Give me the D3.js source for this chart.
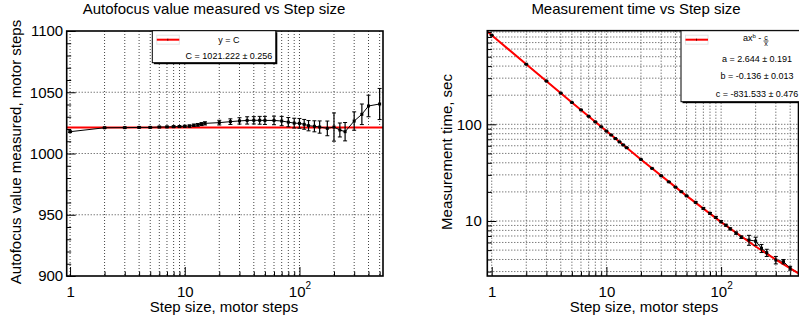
<!DOCTYPE html>
<html>
<head>
<meta charset="utf-8">
<script src="https://cdnjs.cloudflare.com/ajax/libs/d3/7.8.5/d3.min.js"></script>
<style>
  body { margin: 0; background: #fff; }
  svg { display: block; font-family: "Liberation Sans", Arial, Helvetica, sans-serif; }
</style>
</head>
<body>
<svg id="chart" width="799" height="321"></svg>
<script>
// step sizes used for both measurements
var stepSizes = [1, 2, 3, 4, 5, 6, 7, 8, 9, 10, 11, 12, 13, 14, 15, 20, 25, 30, 35, 40, 45, 50,
                 60, 70, 80, 90, 100, 110, 120, 135, 150, 175, 200, 225, 250, 300, 350, 400, 500];

// left: autofocus value
var focusValues = [1017.8, 1021.0, 1021.1, 1021.3, 1021.3, 1021.6, 1021.7, 1021.9, 1022.0, 1022.2,
                   1022.4, 1023.0, 1023.4, 1024.0, 1024.6, 1025.2, 1026.0, 1026.6, 1027.0, 1027.1,
                   1027.1, 1027.0, 1027.0, 1026.5, 1025.6, 1024.8, 1024.6, 1023.8, 1022.7, 1022.2,
                   1021.6, 1020.5, 1021.6, 1019.2, 1017.8, 1026.5, 1032.0, 1038.8, 1040.4];
var focusErrors = [0.6, 0.5, 0.5, 0.5, 0.5, 0.6, 0.6, 0.7, 0.7, 0.8, 0.9, 1.0, 1.1, 1.2, 1.3,
                   1.9, 2.3, 2.6, 3.0, 3.0, 3.2, 3.3, 3.5, 3.8, 3.8, 4.0, 4.0, 4.0, 4.2, 4.5,
                   5.0, 6.0, 11.5, 5.7, 7.5, 7.5, 8.4, 8.8, 12.7];
var focusFitC = 1021.222;

// right: measurement time
var timeValues = [834, 418, 280, 210, 168, 141, 121, 106, 94.4, 85.1, 77.5, 71.2, 65.8, 61.2, 57.3,
                  43.3, 35.0, 29.4, 25.4, 22.4, 20.1, 18.2, 15.6, 13.5, 12.0, 10.9, 9.85, 9.05, 8.3,
                  7.5, 6.8, 6.36, 6.2, 5.22, 4.7, 3.95, 3.8, 3.25, 2.8];
var timeErrors = [2, 1.5, 1.2, 1, 0.8, 0.7, 0.6, 0.5, 0.4, 0.4, 0.35, 0.3, 0.3, 0.3, 0.25,
                  0.25, 0.2, 0.2, 0.2, 0.2, 0.2, 0.2, 0.25, 0.25, 0.25, 0.25, 0.25, 0.2, 0.2,
                  0.2, 0.2, 0.75, 0.6, 0.5, 0.4, 0.35, 0.2, 0.15, 0.1];
// red fit curve
var fitSteps = [0.915, 1, 2, 5, 10, 20, 50, 100, 200, 300, 473];
var fitTimes = [910, 834, 418, 168.4, 85.1, 43.3, 18.2, 9.73, 5.45, 3.99, 2.87];

var focusTicks = [900, 950, 1000, 1050, 1100];
var timeTicks = [10, 100];
var stepTicks = [1, 10, 100];

var svg = d3.select('#chart');

function logSteps(domain) {
  var out = [];
  for (var n = Math.floor(Math.log10(domain[0])); n <= Math.ceil(Math.log10(domain[1])); n++) {
    for (var k = 1; k < 10; k++) {
      var v = k * Math.pow(10, n);
      if (v >= domain[0] && v <= domain[1]) out.push(+v.toPrecision(6));
    }
  }
  return out;
}

function supTen(g) {
  g.selectAll('.tick text').filter(function(d) { return d === 100; })
    .text('10')
    .append('tspan').attr('dy', -8).attr('font-size', 10).text('2');
}

function drawFrame(g, x, y) {
  var x0 = x.range()[0], x1 = x.range()[1], y0 = y.range()[1], y1 = y.range()[0];
  g.append('rect')
    .attr('x', x0).attr('y', y0).attr('width', x1 - x0).attr('height', y1 - y0)
    .attr('fill', 'none').attr('stroke', '#000').attr('stroke-width', 1.6);
}

function drawGrid(g, x, y, xs, ys) {
  var x0 = x.range()[0], x1 = x.range()[1], y0 = y.range()[1], y1 = y.range()[0];
  g.append('g').selectAll('line').data(xs).enter().append('line')
    .attr('x1', function(d) { return x(d); }).attr('x2', function(d) { return x(d); })
    .attr('y1', y0).attr('y2', y1)
    .attr('stroke', '#444').attr('stroke-dasharray', '1,2');
  g.append('g').selectAll('line').data(ys).enter().append('line')
    .attr('y1', function(d) { return y(d); }).attr('y2', function(d) { return y(d); })
    .attr('x1', x0).attr('x2', x1)
    .attr('stroke', '#444').attr('stroke-dasharray', '1,2');
}

function drawLine(g, x, y, xs, vals, clipId) {
  var line = d3.line().x(function(d, i) { return x(xs[i]); }).y(function(d) { return y(d); });
  g.append('path').datum(vals).attr('clip-path', 'url(#' + clipId + ')').attr('d', line)
    .attr('fill', 'none').attr('stroke', '#000').attr('stroke-width', 1);
}

function drawPoints(g, x, y, xs, vals, errs, clipId) {
  var pts = g.append('g').attr('clip-path', 'url(#' + clipId + ')');
  var bars = pts.selectAll('g.bar').data(vals).enter().append('g').attr('class', 'bar');
  bars.append('line')
    .attr('x1', function(d, i) { return x(xs[i]); }).attr('x2', function(d, i) { return x(xs[i]); })
    .attr('y1', function(d, i) { return y(d - errs[i]); }).attr('y2', function(d, i) { return y(d + errs[i]); })
    .attr('stroke', '#000').attr('stroke-width', 1.2);
  [-1, 1].forEach(function(s) {
    bars.append('line')
      .attr('x1', function(d, i) { return x(xs[i]) - 2; }).attr('x2', function(d, i) { return x(xs[i]) + 2; })
      .attr('y1', function(d, i) { return y(d + s * errs[i]); }).attr('y2', function(d, i) { return y(d + s * errs[i]); })
      .attr('stroke', '#000').attr('stroke-width', 1);
  });
  bars.append('rect')
    .attr('x', function(d, i) { return x(xs[i]) - 1.5; })
    .attr('y', function(d) { return y(d) - 1.5; })
    .attr('width', 3).attr('height', 3).attr('fill', '#000');
}

function legendBox(g, bx, by, bw, bh) {
  g.append('rect').attr('x', bx + 1.5).attr('y', by + 1.5).attr('width', bw).attr('height', bh).attr('fill', '#000');
  g.append('rect').attr('x', bx).attr('y', by).attr('width', bw).attr('height', bh)
    .attr('fill', '#fff').attr('stroke', '#000').attr('stroke-width', 1);
  g.append('rect').attr('x', bx + 4.5).attr('y', by + 4.5).attr('width', 22.5).attr('height', 9)
    .attr('fill', 'none').attr('stroke', '#e4e4e4');
  g.append('line').attr('x1', bx + 4.5).attr('x2', bx + 27).attr('y1', by + 9).attr('y2', by + 9)
    .attr('stroke', '#f00').attr('stroke-width', 2);
  g.append('rect').attr('x', bx + 15).attr('y', by + 8).attr('width', 1).attr('height', 2).attr('fill', '#600');
}

// ---------- left panel ----------
var xL = d3.scaleLog().domain([0.935, 535]).range([66.7, 383]);
var yL = d3.scaleLinear().domain([900, 1100]).range([276, 31]);
var left = svg.append('g');

left.append('clipPath').attr('id', 'clipL').append('rect')
  .attr('x', 66.7).attr('y', 31).attr('width', 383 - 66.7).attr('height', 245);

drawGrid(left, xL, yL, logSteps(xL.domain()), [950, 1000, 1050]);

left.append('line').attr('clip-path', 'url(#clipL)')
  .attr('x1', xL.range()[0]).attr('x2', xL.range()[1])
  .attr('y1', yL(focusFitC)).attr('y2', yL(focusFitC))
  .attr('stroke', '#f00').attr('stroke-width', 2);

drawLine(left, xL, yL, stepSizes, focusValues, 'clipL');
drawPoints(left, xL, yL, stepSizes, focusValues, focusErrors, 'clipL');

var minorL = d3.range(910, 1100, 10).filter(function(d) { return d % 50 !== 0; });
left.append('g').attr('transform', 'translate(66.7,0)')
  .call(d3.axisLeft(yL).tickValues(minorL).tickSize(-4.5).tickFormat(''))
  .call(function(g) { g.select('.domain').remove(); });
left.append('g').attr('transform', 'translate(66.7,0)')
  .call(d3.axisLeft(yL).tickValues(focusTicks).tickSize(-9).tickPadding(3.5).tickFormat(d3.format('d')))
  .call(function(g) { g.select('.domain').remove(); })
  .call(function(g) { g.selectAll('text').attr('font-size', 15).attr('font-family', null).attr('fill', '#000'); });

left.append('g').attr('transform', 'translate(0,276)')
  .call(d3.axisBottom(xL).tickValues(logSteps(xL.domain()).filter(function(d) { return stepTicks.indexOf(d) < 0; })).tickSize(-4.5).tickFormat(''))
  .call(function(g) { g.select('.domain').remove(); });
left.append('g').attr('transform', 'translate(0,276)')
  .call(d3.axisBottom(xL).tickValues(stepTicks).tickSize(-9).tickPadding(10).tickFormat(function(d) { return d; }))
  .call(function(g) { g.select('.domain').remove(); })
  .call(function(g) { g.selectAll('text').attr('font-size', 15).attr('font-family', null).attr('fill', '#000'); })
  .call(supTen);

drawFrame(left, xL, yL);

left.append('text').attr('x', 214).attr('y', 13.5).attr('text-anchor', 'middle').attr('font-size', 15)
  .text('Autofocus value measured vs Step size');
left.append('text').attr('x', 224).attr('y', 312).attr('text-anchor', 'middle').attr('font-size', 15)
  .text('Step size, motor steps');
left.append('text').attr('transform', 'translate(21,152) rotate(-90)').attr('text-anchor', 'middle').attr('font-size', 15)
  .text('Autofocus value measured, motor steps');

var legL = left.append('g');
legendBox(legL, 152.3, 30.7, 123.5, 32);
legL.append('text').attr('x', 229).attr('y', 42.5).attr('text-anchor', 'middle').attr('font-size', 9).text('y = C');
legL.append('text').attr('x', 229).attr('y', 59.3).attr('text-anchor', 'middle').attr('font-size', 9)
  .text('C = 1021.222 \u00b1 0.256');

// ---------- right panel ----------
var xR = d3.scaleLog().domain([0.915, 472.8]).range([487.3, 798.5]);
var yR = d3.scaleLog().domain([2.70, 929]).range([276, 30.7]);
var right = svg.append('g');

right.append('clipPath').attr('id', 'clipR').append('rect')
  .attr('x', 487.3).attr('y', 30.7).attr('width', 798.5 - 487.3).attr('height', 276 - 30.7);

drawGrid(right, xR, yR, logSteps(xR.domain()), logSteps(yR.domain()));

drawLine(right, xR, yR, stepSizes, timeValues, 'clipR');

var fitLine = d3.line().x(function(d, i) { return xR(fitSteps[i]); }).y(function(d) { return yR(d); });
right.append('path').datum(fitTimes).attr('clip-path', 'url(#clipR)').attr('d', fitLine)
  .attr('fill', 'none').attr('stroke', '#f00').attr('stroke-width', 2);

drawPoints(right, xR, yR, stepSizes, timeValues, timeErrors, 'clipR');

right.append('g').attr('transform', 'translate(487.3,0)')
  .call(d3.axisLeft(yR).tickValues(logSteps(yR.domain()).filter(function(d) { return timeTicks.indexOf(d) < 0; })).tickSize(-4.5).tickFormat(''))
  .call(function(g) { g.select('.domain').remove(); });
right.append('g').attr('transform', 'translate(487.3,0)')
  .call(d3.axisLeft(yR).tickValues(timeTicks).tickSize(-9).tickPadding(5.5).tickFormat(function(d) { return d; }))
  .call(function(g) { g.select('.domain').remove(); })
  .call(function(g) { g.selectAll('text').attr('font-size', 15).attr('font-family', null).attr('fill', '#000'); });

right.append('g').attr('transform', 'translate(0,276)')
  .call(d3.axisBottom(xR).tickValues(logSteps(xR.domain()).filter(function(d) { return stepTicks.indexOf(d) < 0; })).tickSize(-4.5).tickFormat(''))
  .call(function(g) { g.select('.domain').remove(); });
right.append('g').attr('transform', 'translate(0,276)')
  .call(d3.axisBottom(xR).tickValues(stepTicks).tickSize(-9).tickPadding(10).tickFormat(function(d) { return d; }))
  .call(function(g) { g.select('.domain').remove(); })
  .call(function(g) { g.selectAll('text').attr('font-size', 15).attr('font-family', null).attr('fill', '#000'); })
  .call(supTen);

drawFrame(right, xR, yR);

right.append('text').attr('x', 636).attr('y', 13.5).attr('text-anchor', 'middle').attr('font-size', 15)
  .text('Measurement time vs Step size');
right.append('text').attr('x', 644).attr('y', 312).attr('text-anchor', 'middle').attr('font-size', 15)
  .text('Step size, motor steps');
right.append('text').attr('transform', 'translate(452,152) rotate(-90)').attr('text-anchor', 'middle').attr('font-size', 15)
  .text('Measurement time, sec');

var legR = right.append('g');
legendBox(legR, 681, 30.7, 124, 71);
var formula = legR.append('text').attr('x', 743).attr('y', 41).attr('font-size', 9);
formula.append('tspan').text('ax');
formula.append('tspan').attr('dy', -3.5).attr('font-size', 6).text('b');
formula.append('tspan').attr('dy', 3.5).text(' - ');
legR.append('text').attr('x', 766).attr('y', 39.5).attr('text-anchor', 'middle').attr('font-size', 7).text('c');
legR.append('line').attr('x1', 763.5).attr('x2', 768.5).attr('y1', 41).attr('y2', 41).attr('stroke', '#000').attr('stroke-width', 0.7);
legR.append('text').attr('x', 766).attr('y', 46).attr('text-anchor', 'middle').attr('font-size', 7).text('x');
legR.append('text').attr('x', 757).attr('y', 61.5).attr('text-anchor', 'middle').attr('font-size', 9).text('a = 2.644 \u00b1 0.191');
legR.append('text').attr('x', 757).attr('y', 79.2).attr('text-anchor', 'middle').attr('font-size', 9).text('b = -0.136 \u00b1 0.013');
legR.append('text').attr('x', 757).attr('y', 96.5).attr('text-anchor', 'middle').attr('font-size', 9).text('c = -831.533 \u00b1 0.476');
</script>
</body>
</html>
